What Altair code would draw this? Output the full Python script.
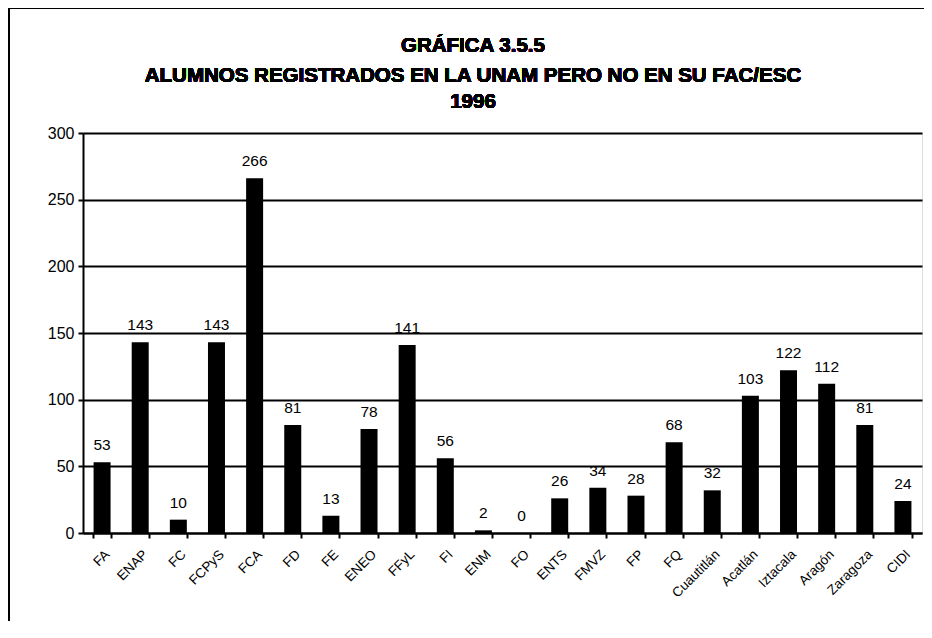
import altair as alt
import pandas as pd

categories = ["FA", "ENAP", "FC", "FCPyS", "FCA", "FD", "FE", "ENEO", "FFyL", "FI",
              "ENM", "FO", "ENTS", "FMVZ", "FP", "FQ", "Cuautitlán", "Acatlán",
              "Iztacala", "Aragón", "Zaragoza", "CIDI"]
values = [53, 143, 10, 143, 266, 81, 13, 78, 141, 56,
          2, 0, 26, 34, 28, 68, 32, 103, 122, 112, 81, 24]
y_ticks = [0, 50, 100, 150, 200, 250, 300]
title_lines = ["GRÁFICA 3.5.5",
               "ALUMNOS REGISTRADOS EN LA UNAM PERO NO EN SU FAC/ESC",
               "1996"]

df = pd.DataFrame({"cat": categories, "val": values})

FONT = "Liberation Sans"

x_enc = alt.X("cat:N", sort=categories, title=None,
              scale=alt.Scale(paddingInner=0.55, paddingOuter=0.275),
              axis=alt.Axis(labelAngle=-45, labelFontSize=13.5, labelFont=FONT,
                            labelColor="black", labelPadding=9,
                            tickBand="extent", tickSize=5, tickColor="black",
                            tickWidth=2, domainColor="black", domainWidth=2,
                            grid=False, labelOverlap=False))
y_enc = alt.Y("val:Q", title=None,
              scale=alt.Scale(domain=[0, 300], nice=False),
              axis=alt.Axis(values=y_ticks, labelFontSize=16, labelFont=FONT,
                            labelColor="black", labelPadding=4, tickSize=5,
                            tickColor="black", tickWidth=2, domainColor="black",
                            domainWidth=2, grid=True, gridColor="black",
                            gridWidth=1.8, gridOpacity=1))

bars = alt.Chart(df).mark_bar(color="black", size=17).encode(x=x_enc, y=y_enc)

labels = alt.Chart(df).mark_text(baseline="bottom", dy=-9, fontSize=15.5,
                                 font=FONT, color="black").encode(
    x=alt.X("cat:N", sort=categories), y="val:Q", text="val:Q")

frame_top = alt.Chart(df).mark_rule(color="black", strokeWidth=2).encode(
    x=alt.value(-74), x2=alt.value(860), y=alt.value(-125))
frame_left = alt.Chart(df).mark_rule(color="black", strokeWidth=2).encode(
    x=alt.value(-74), y=alt.value(-125), y2=alt.value(520))

title_baselines = [-81, -51, -25]
title_marks = [
    alt.Chart(df).mark_text(text=line, fontSize=20.5, font=FONT, fontWeight="bold",
                            color="black", align="center",
                            baseline="alphabetic").encode(
        x=alt.value(390), y=alt.value(yb))
    for line, yb in zip(title_lines, title_baselines)
]

chart = alt.layer(bars, labels, frame_top, frame_left, *title_marks).properties(
    width=839, height=400,
    autosize=alt.AutoSizeParams(type="none"),
    padding={"left": 75, "top": 125, "right": 2, "bottom": 88},
).configure_view(stroke="black", strokeWidth=2).configure(background="white")

chart.save("out.html", embed_options={"renderer": "svg", "actions": False})
